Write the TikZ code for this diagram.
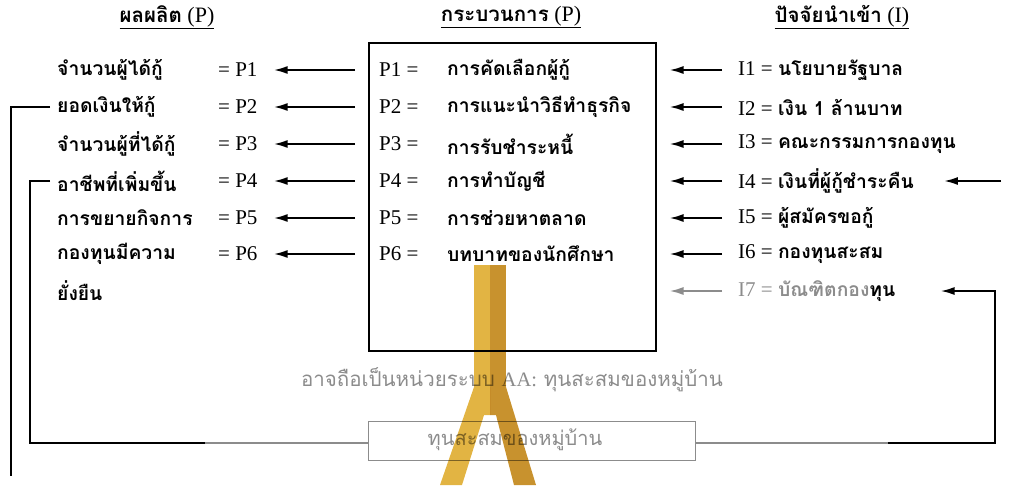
\documentclass[tikz,border=0pt]{standalone}
\usepackage{fontspec}
\setmainfont{Liberation Serif}
\newfontfamily\thai[Script=Thai]{Loma}
\usetikzlibrary{arrows.meta}
\definecolor{gry}{HTML}{8C8C8C}
\definecolor{gold}{HTML}{E2B443}
\definecolor{golddk}{HTML}{C8922E}
\newcommand{\tb}[1]{{\thai\bfseries\fontsize{19.3}{22}\selectfont #1}}
\begin{document}
\begin{tikzpicture}[x=1pt,y=-1pt,
  txt/.style={anchor=west,inner sep=0pt,font=\fontsize{21}{24}\selectfont},
  hd/.style={inner sep=0pt,font=\fontsize{22}{26}\selectfont},
  arr/.style={line width=2pt,-{Latex[length=14pt,width=8pt]}},
  brk/.style={line width=2pt},
  gline/.style={line width=2pt,gry}]
\useasboundingbox (0,0) rectangle (1011,485);
% headings
\node[hd] (h1) at (167,17) {\underline{{\thai\bfseries\fontsize{20.5}{24}\selectfont ผลผลิต} (P)}};
\node[hd] (h2) at (511,17) {\underline{{\thai\bfseries\fontsize{20.5}{24}\selectfont กระบวนการ} (P)}};
\node[hd] (h3) at (842,17) {\underline{{\thai\bfseries\fontsize{20.5}{24}\selectfont ปัจจัยนำเข้า} (I)}};
% process box
\node[draw,line width=1.5pt,minimum width=287pt,minimum height=308pt,anchor=north west,inner sep=0pt] (box) at (368,42) {};
% rows
\foreach \k/\y/\out/\proc/\inp in {
 1/70/จำนวนผู้ได้กู้/การคัดเลือกผู้กู้/นโยบายรัฐบาล,
 2/107/ยอดเงินให้กู้/การแนะนำวิธีทำธุรกิจ/เงิน 1 ล้านบาท,
 3/144/จำนวนผู้ที่ได้กู้/การรับชำระหนี้/คณะกรรมการกองทุน,
 4/181/อาชีพที่เพิ่มขึ้น/การทำบัญชี/เงินที่ผู้กู้ชำระคืน,
 5/218/การขยายกิจการ/การช่วยหาตลาด/ผู้สมัครขอกู้,
 6/254/กองทุนมีความ/บทบาทของนักศึกษา/กองทุนสะสม}{
  \node[txt] (o\k) at (57,\y) {\tb{\out}};
  \node[txt] (e\k) at (218,\y) {= P\k};
  \node[txt] (p\k) at (379,\y) {P\k\ =};
  \node[txt] (q\k) at (447,\y) {\tb{\proc}};
  \node[txt] (i\k) at (738,\y) {I\k\ = \tb{\inp}};
  \draw[arr] ([xshift=-13pt]box.west |- p\k) -- ([xshift=16pt]e\k.east);
  \draw[arr] ([xshift=-16pt]i\k.west) -- ([xshift=13pt]box.east |- i\k);
}
\node[txt] (o7) at (57,291) {\tb{ยั่งยืน}};
\node[txt,text=gry] (i7) at (738,291) {I7 = \tb{บัณฑิตกอง\textcolor{black}{ทุน}}};
\draw[arr,gry] ([xshift=-16pt]i7.west) -- ([xshift=13pt]box.east |- i7);
% extra arrow to I4
\coordinate (i4in) at (1001,181);
\draw[arr] (i4in) -- ([xshift=30pt]i4.east);
% grey note
\node[inner sep=0pt,text=gry,font=\thai\fontsize{20.5}{24}\selectfont] (note) at (512,380) {อาจถือเป็นหน่วยระบบ {\rmfamily AA:} ทุนสะสมของหมู่บ้าน};
\node[draw=gry,line width=1.2pt,minimum width=327pt,minimum height=39pt,anchor=north west,inner sep=0pt] (fund) at (368,421) {};
\node[inner sep=0pt,text=gry,font=\thai\fontsize{20}{24}\selectfont] (fundt) at (515,440) {ทุนสะสมของหมู่บ้าน};
% left brackets
\coordinate (b1) at (11,107);
\coordinate (b1e) at (11,476);
\draw[brk] ([xshift=-7pt]o2.west) -- (b1) -- (b1e);
\coordinate (b2) at (30,181);
\coordinate (b2c) at (30,443);
\coordinate (b2g) at (205,443);
\draw[brk] ([xshift=-7pt]o4.west) -- (b2) -- (b2c) -- (b2g);
\draw[gline] (b2g) -- (fund.west |- b2g);
% right loop
\coordinate (r1) at (888,443);
\coordinate (r2) at (995,443);
\coordinate (r3) at (995,291);
\draw[gline] (fund.east |- r1) -- (r1);
\draw[arr] (r1) -- (r2) -- (r3) -- ([xshift=45pt]i7.east |- r3);
% watermark (drawn over, multiplied)
\begin{scope}[blend mode=multiply]
\fill[gold] (474,265) rectangle (490,387);
\fill[golddk] (490,265) rectangle (506,387);
\fill[gold] (474,387) -- (440,485) -- (462,485) -- (484,415) -- (490,415) -- (490,387) -- cycle;
\fill[golddk] (506,387) -- (536,485) -- (514,485) -- (496,415) -- (490,415) -- (490,387) -- cycle;
\end{scope}
\end{tikzpicture}
\end{document}
